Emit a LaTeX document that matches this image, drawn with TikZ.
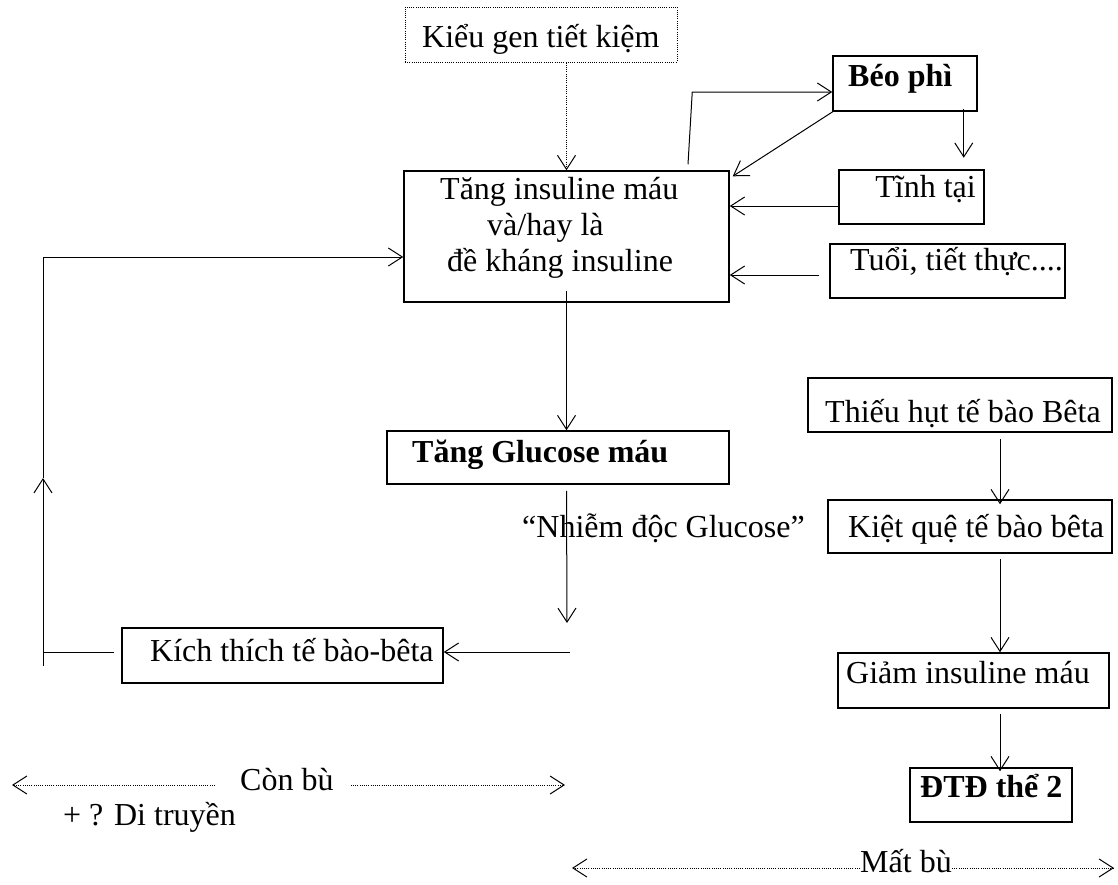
\documentclass[tikz,border=0pt]{standalone}
\usepackage{fontspec}
\setmainfont{Liberation Serif}
\usetikzlibrary{arrows.meta}
\begin{document}
\begin{tikzpicture}[x=1pt,y=-1pt,
  box/.style={draw, line width=1.5pt, inner sep=0pt},
  dotbox/.style={draw, line width=1pt, dash pattern=on 1pt off 1.2pt, inner sep=0pt},
  conn/.style={line width=1pt, -{Straight Barb[length=14pt,width=18pt]}},
  dotconn/.style={line width=1pt, dash pattern=on 1pt off 1.2pt, -{Straight Barb[length=14pt,width=18pt]}},
  plain/.style={line width=1pt},
  lbl/.style={anchor=base west, inner sep=0pt, font=\fontsize{32}{38}\selectfont},
]
\useasboundingbox (0,0) rectangle (1118,884);

% boxes
\node[dotbox, minimum width=272pt, minimum height=55pt] (kieu) at (541,34.5) {};
\node[box, minimum width=325pt, minimum height=131pt] (main) at (566.5,236.5) {};
\node[box, minimum width=144pt, minimum height=55pt] (beo) at (905,83.5) {};
\node[box, minimum width=145pt, minimum height=54pt] (tinh) at (911.5,197) {};
\node[box, minimum width=235pt, minimum height=54pt] (tuoi) at (947.5,271) {};
\node[box, minimum width=342pt, minimum height=53pt] (gluc) at (558,457.5) {};
\node[box, minimum width=321pt, minimum height=55pt] (kich) at (282.5,655.5) {};
\node[box, minimum width=304pt, minimum height=54pt] (thieu) at (960,405) {};
\node[box, minimum width=284pt, minimum height=53pt] (kiet) at (970,526.5) {};
\node[box, minimum width=271pt, minimum height=55pt] (giam) at (973.5,680.5) {};
\node[box, minimum width=162pt, minimum height=54pt] (dtd) at (991,795) {};

% texts
\node[lbl] (tkieu) at (422,47) {Kiểu gen tiết kiệm};
\node[lbl] (tm1) at (440,199) {Tăng insuline máu};
\node[lbl] (tm2) at (487,235) {và/hay là};
\node[lbl] (tm3) at (447,271) {đề kháng insuline};
\node[lbl, font=\fontsize{32}{38}\selectfont\bfseries] (tbeo) at (848,86) {Béo phì};
\node[lbl, anchor=base east] (ttinh) at (976,197) {Tĩnh tại};
\node[lbl] (ttuoi) at (850,270) {Tuổi, tiết thực....};
\node[lbl, font=\fontsize{32}{38}\selectfont\bfseries] (tgluc) at (412,462) {Tăng Glucose máu};
\node[lbl] (tnhiem) at (522,537) {“Nhiễm độc Glucose”};
\node[lbl] (tkich) at (150,661) {Kích thích tế bào-bêta};
\node[lbl] (tthieu) at (825,422) {Thiếu hụt tế bào Bêta};
\node[lbl] (tkiet) at (848,537) {Kiệt quệ tế bào bêta};
\node[lbl] (tgiam) at (846,683) {Giảm insuline máu};
\node[lbl, font=\fontsize{32}{38}\selectfont\bfseries] (tdtd) at (920,797) {ĐTĐ thể 2};
\node[lbl] (conbu) at (240,790) {Còn bù};
\node[lbl] (ditruyen) at (63,825) {+ ? Di truyền};
\node[lbl] (matbu) at (860,872) {Mất bù};

% free ends
\coordinate (gk) at (567,623);
\coordinate (nk) at (570,652);
\coordinate (lb) at (43,666);
\coordinate (lm) at (43,478);
\coordinate (lt) at (43,257);
\coordinate (rc) at (1000,0);
\coordinate (cbl) at (12,785);
\coordinate (cbr) at (565,785);
\coordinate (mbl) at (572,868);
\coordinate (mbr) at (1114,868);

% top part
\draw[dotconn] (kieu.south -| main.north) -- (main.north);
\draw[conn] ([xshift=121.5pt,yshift=6pt]main.north) -- ([xshift=-140pt,yshift=-8.5pt]beo.west) -- ([yshift=-8.5pt]beo.west);
\draw[conn] ([xshift=2pt,yshift=1pt]beo.south west) -- ([xshift=3pt,yshift=-6pt]main.north east);
\draw[conn] ([xshift=-14pt,yshift=3pt]beo.south east) -- ([xshift=-14pt,yshift=-46pt]beo.south east);
\draw[conn] ([yshift=-9pt]tinh.west) -- ([yshift=-9pt]tinh.west -| main.east);
\draw[conn] ([xshift=-10pt,yshift=-4pt]tuoi.west) -- ([yshift=-4pt]tuoi.west -| main.east);

% compensation loop
\draw[conn] ([yshift=12pt]main.south) -- (main.south |- gluc.north);
\draw[conn] ([yshift=-6pt]gluc.south -| main.south) -- (gk);
\draw[conn] (nk) -- (nk -| kich.east);
\draw[plain] ([xshift=-7pt]kich.west |- nk) -- (lb |- nk);
\draw[conn] (lb) -- (lm);
\draw[conn] (lm) -- (lt) -- (lt -| main.west);

% beta-cell decline
\draw[conn] ([yshift=-6pt]thieu.south -| rc) -- ([yshift=-5pt]kiet.north -| rc);
\draw[conn] ([yshift=-5pt]kiet.south -| rc) -- (giam.north -| rc);
\draw[conn] ([yshift=-5pt]giam.south -| rc) -- ([yshift=-4pt]dtd.north -| rc);

% phase spans
\draw[dotconn] ([xshift=-25pt]conbu.west |- cbl) -- (cbl);
\draw[dotconn] ([xshift=17pt]conbu.east |- cbr) -- (cbr);
\draw[dotconn] (matbu.west |- mbl) -- (mbl);
\draw[dotconn] (matbu.east |- mbr) -- (mbr);
\end{tikzpicture}
\end{document}
